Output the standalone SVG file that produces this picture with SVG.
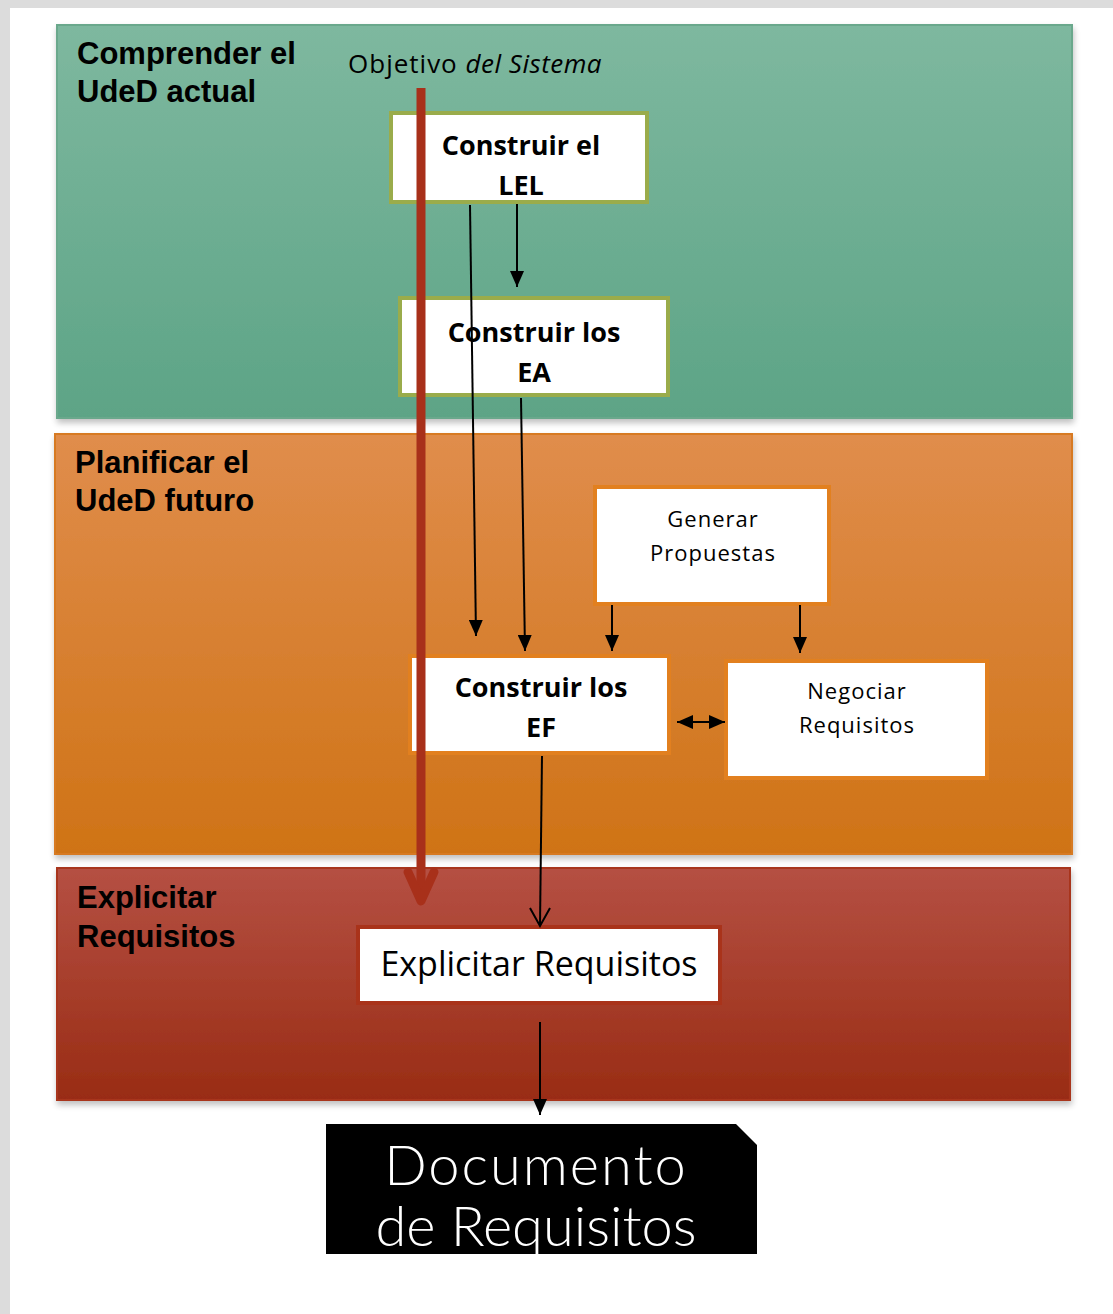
<svg xmlns="http://www.w3.org/2000/svg" width="1113" height="1314" viewBox="0 0 1113 1314">
  <defs>
    <linearGradient id="gGreen" x1="0" y1="0" x2="0" y2="1">
      <stop offset="0" stop-color="#7eb89f"/>
      <stop offset="1" stop-color="#5da486"/>
    </linearGradient>
    <linearGradient id="gOrange" x1="0" y1="0" x2="0" y2="1">
      <stop offset="0" stop-color="#e08d4c"/>
      <stop offset="1" stop-color="#cf7316"/>
    </linearGradient>
    <linearGradient id="gRed" x1="0" y1="0" x2="0" y2="1">
      <stop offset="0" stop-color="#b55043"/>
      <stop offset="1" stop-color="#992c14"/>
    </linearGradient>
    <filter id="shadow" x="-5%" y="-5%" width="110%" height="115%">
      <feGaussianBlur in="SourceAlpha" stdDeviation="3"/>
      <feOffset dx="1" dy="4" result="b"/>
      <feComponentTransfer><feFuncA type="linear" slope="0.25"/></feComponentTransfer>
      <feMerge><feMergeNode/><feMergeNode in="SourceGraphic"/></feMerge>
    </filter>
    <!-- filled arrowhead, tip at the line end -->
    <marker id="arrow" viewBox="0 0 16 14" refX="16" refY="7" markerWidth="16" markerHeight="14" markerUnits="userSpaceOnUse" orient="auto-start-reverse">
      <path d="M0,0 L16,7 L0,14 Z" fill="#000"/>
    </marker>
  </defs>
  <style>
    .band-title { font-family: "Liberation Sans", Arial, sans-serif; font-weight: bold; font-size: 31px; fill: #000; }
    .box { fill: #fff; stroke-width: 4; }
    .olive { stroke: #9aac4b; }
    .orange { stroke: #e2801f; }
    .red { stroke: #a9331a; }
    .lbl-b { font-family: "Open Sans", "Noto Sans", sans-serif; font-weight: bold; font-size: 27px; fill: #000; text-anchor: middle; }
    .lbl { font-family: "Open Sans", "Noto Sans", sans-serif; font-size: 22px; fill: #000; text-anchor: middle; letter-spacing: 1px; }
    .doc { font-family: Lato, "Noto Sans", sans-serif; font-weight: 300; font-size: 56px; fill: #fff; text-anchor: middle; letter-spacing: 2px; }
    .doc2 { letter-spacing: 0px; }
    .conn { stroke: #000; stroke-width: 2; fill: none; }
  </style>

  <!-- page background -->
  <rect x="0" y="0" width="1113" height="1314" fill="#dcdcdc"/>
  <rect x="10" y="8" width="1103" height="1306" fill="#fff"/>

  <!-- phase bands -->
  <g id="band-comprender">
    <rect x="57" y="25" width="1015" height="393" fill="url(#gGreen)" stroke="#6aa88c" stroke-width="2" filter="url(#shadow)"/>
    <text class="band-title" x="77" y="64">Comprender el</text>
    <text class="band-title" x="77" y="102">UdeD actual</text>
  </g>
  <g id="band-planificar">
    <rect x="55" y="434" width="1017" height="420" fill="url(#gOrange)" stroke="#d77a22" stroke-width="2" filter="url(#shadow)"/>
    <text class="band-title" x="75" y="473">Planificar el</text>
    <text class="band-title" x="75" y="511">UdeD futuro</text>
  </g>
  <g id="band-explicitar">
    <rect x="57" y="868" width="1013" height="232" fill="url(#gRed)" stroke="#a8341f" stroke-width="2" filter="url(#shadow)"/>
    <text class="band-title" x="77" y="908">Explicitar</text>
    <text class="band-title" x="77" y="947">Requisitos</text>
  </g>

  <!-- system goal label -->
  <text x="348" y="73" font-family="'Open Sans', 'Noto Sans', sans-serif" font-size="26" fill="#000" letter-spacing="1">Objetivo <tspan font-style="italic" letter-spacing="0.5">del Sistema</tspan></text>

  <!-- activity nodes -->
  <g id="node-lel">
    <rect class="box olive" x="391" y="113" width="256" height="89"/>
    <text class="lbl-b" x="521" y="155">Construir el</text>
    <text class="lbl-b" x="521" y="195">LEL</text>
  </g>
  <g id="node-ea">
    <rect class="box olive" x="400" y="298" width="268" height="97"/>
    <text class="lbl-b" x="534" y="342">Construir los</text>
    <text class="lbl-b" x="534" y="382">EA</text>
  </g>
  <g id="node-generar">
    <rect class="box orange" x="595" y="487" width="234" height="117"/>
    <text class="lbl" x="713" y="527">Generar</text>
    <text class="lbl" x="713" y="561">Propuestas</text>
  </g>
  <g id="node-ef">
    <rect class="box orange" x="410" y="656" width="259" height="97"/>
    <text class="lbl-b" x="541" y="697">Construir los</text>
    <text class="lbl-b" x="541" y="737">EF</text>
  </g>
  <g id="node-negociar">
    <rect class="box orange" x="726" y="661" width="261" height="117"/>
    <text class="lbl" x="857" y="699">Negociar</text>
    <text class="lbl" x="857" y="733">Requisitos</text>
  </g>
  <g id="node-explicitar">
    <rect class="box red" x="358" y="927" width="362" height="76"/>
    <text x="539" y="976" font-family="'Open Sans', 'Noto Sans', sans-serif" font-size="34" fill="#000" text-anchor="middle">Explicitar Requisitos</text>
  </g>
  <g id="node-documento">
    <path d="M326,1124 H736 L757,1145 V1254 H326 Z" fill="#000"/>
    <text class="doc" x="536" y="1185">Documento</text>
    <text class="doc doc2" x="536" y="1246">de Requisitos</text>
  </g>

  <!-- connectors -->
  <g id="connectors">
    <line class="conn" x1="470" y1="205" x2="476" y2="636" marker-end="url(#arrow)"/>
    <line class="conn" x1="517" y1="204" x2="517" y2="287" marker-end="url(#arrow)"/>
    <line class="conn" x1="521" y1="398" x2="525" y2="651" marker-end="url(#arrow)"/>
    <line class="conn" x1="612" y1="605" x2="612" y2="651" marker-end="url(#arrow)"/>
    <line class="conn" x1="800" y1="605" x2="800" y2="653" marker-end="url(#arrow)"/>
    <line class="conn" x1="677" y1="722" x2="725" y2="722" marker-start="url(#arrow)" marker-end="url(#arrow)"/>
    <line class="conn" x1="542" y1="756" x2="540" y2="926"/>
    <polyline class="conn" points="530,908 540,926 550,908"/>
    <line class="conn" x1="540" y1="1022" x2="540" y2="1115" marker-end="url(#arrow)"/>
    <!-- thick goal arrow -->
    <line x1="421" y1="88" x2="421" y2="900" stroke="#a8301a" stroke-width="9"/>
    <polyline points="408,872 421,901 434,872" fill="none" stroke="#a8301a" stroke-width="9" stroke-linecap="round" stroke-linejoin="round"/>
  </g>
</svg>
